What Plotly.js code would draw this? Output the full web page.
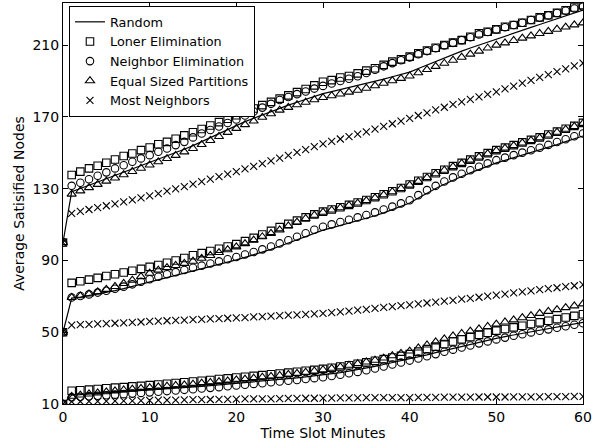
<!DOCTYPE html>
<html>
<head>
<meta charset="utf-8">
<script src="https://cdn.plot.ly/plotly-3.0.1.min.js"></script>
<style>html,body{margin:0;padding:0;background:#fff;}#chart{width:602px;height:448px;}</style>
</head>
<body>
<div id="chart"></div>
<script>
// Time axis (minutes)
const minutes = [0,1,2,3,4,5,6,7,8,9,10,11,12,13,14,15,16,17,18,19,20,21,22,23,24,25,26,27,28,29,30,
  31,32,33,34,35,36,37,38,39,40,41,42,43,44,45,46,47,48,49,50,51,52,53,54,55,56,57,58,59,60];

const seriesNames = ["Random","Loner Elimination","Neighbor Elimination","Equal Sized Partitions","Most Neighbors"];
const yTicks = [10,50,90,130,170,210];
const xTicks = [0,10,20,30,40,50,60];

// ---------- Group starting at 100 ----------
const random100 = [100,128.3,130.1,131.9,133.7,135.5,137.3,139.1,140.9,142.7,144.5,146.3,148.1,150.0,152.0,154.0,
  156.3,158.6,160.9,163.2,165.5,167.4,169.3,171.2,173.1,175.0,176.6,178.2,179.8,181.4,183.0,
  184.1,185.2,186.3,187.4,188.5,189.8,191.1,192.4,193.7,195.0,197.0,199.0,201.0,203.0,205.0,
  206.7,208.4,210.1,211.8,213.5,215.1,216.7,218.3,219.9,221.5,223.1,224.7,226.3,227.9,229.5];
const loner100 = [100,137.6,139.5,141.3,142.8,144.5,146.3,148.2,149.6,151.5,153.0,154.8,156.1,157.8,159.7,161.5,
  163.3,165.2,167.1,169.0,170.9,172.8,174.7,176.6,178.4,180.2,182.0,183.8,185.6,187.6,189.6,
  190.5,192.0,192.8,194.3,195.8,197.1,199.0,200.8,202.1,203.6,205.5,207.0,208.6,210.1,211.4,
  212.8,214.7,216.6,217.5,218.8,220.3,221.2,222.5,224.0,225.5,226.7,228.0,229.5,231.0,232.3];
const neighbor100 = [100,131.6,133.3,135.3,137.2,139.1,141.3,143.1,145.0,146.9,148.7,150.6,152.4,154.3,156.1,158.6,
  160.8,162.7,164.7,166.6,168.6,170.8,173.0,175.2,177.3,179.4,181.1,182.7,184.2,185.8,187.3,
  188.6,190.0,191.3,192.7,194.5,196.3,198.2,200.0,201.6,203.2,205.0,206.7,208.3,209.9,211.3,
  212.8,214.4,216.0,217.3,218.7,220.0,221.2,222.5,224.0,225.3,226.6,227.9,229.2,230.4,231.5];
const equal100 = [100,127.0,128.8,130.6,132.4,134.2,136.0,137.8,139.6,141.4,143.2,145.0,146.8,148.6,150.5,152.4,
  154.6,156.9,159.1,161.4,163.6,165.7,167.7,169.8,171.8,173.8,175.3,176.8,178.2,179.6,180.8,
  181.8,182.8,183.8,184.9,186.0,187.4,188.8,190.2,191.5,192.8,194.6,196.4,198.2,199.9,201.6,
  203.3,205.0,206.7,208.4,210.0,211.3,212.6,213.9,215.2,216.5,217.7,218.9,220.1,221.3,222.4];
const most100 = [100,116.2,117.3,118.4,119.4,120.5,121.6,122.7,123.8,124.9,126.0,127.3,128.6,129.9,131.2,132.5,
  133.9,135.3,136.7,138.1,139.5,141.0,142.5,144.0,145.5,147.0,148.6,150.2,151.8,153.4,155.0,
  156.4,157.7,159.0,160.4,161.7,163.2,164.7,166.2,167.7,169.2,170.8,172.3,173.9,175.4,177.0,
  178.4,179.8,181.2,182.6,184.0,185.6,187.2,188.8,190.4,192.0,193.6,195.2,196.8,198.4,200.0];

// ---------- Group starting at 50 ----------
const random50 = [50,69.0,69.6,70.4,71.3,72.2,73.2,74.3,75.5,76.8,78.1,79.4,80.7,81.9,83.1,84.3,
  85.5,86.7,87.9,89.1,90.3,91.7,93.1,94.6,96.2,97.9,99.7,101.6,103.5,105.3,106.9,
  108.2,109.5,110.8,112.1,113.4,114.9,116.5,118.2,120.0,122.0,124.8,127.6,130.1,132.5,134.8,
  136.8,138.8,140.7,142.6,144.4,145.8,147.2,148.6,150.0,151.4,153.0,154.6,156.2,157.8,159.4];
const loner50 = [50,77.5,78.4,79.3,80.3,81.3,82.3,83.3,84.3,85.3,86.4,87.5,88.7,90.0,91.4,92.9,
  94.1,95.3,96.5,97.8,99.1,100.8,102.6,104.5,106.5,108.6,110.4,112.2,114.0,115.7,117.2,
  118.4,119.7,121.0,122.3,123.7,125.2,126.9,128.6,130.4,132.3,134.4,136.5,138.6,140.6,142.6,
  144.4,146.2,148.0,149.8,151.5,152.9,154.3,155.8,157.2,158.6,160.2,161.8,163.4,165.0,166.7];
const neighbor50 = [50,69.4,70.2,71.1,72.1,73.1,74.2,75.4,76.7,78.1,79.5,80.9,82.3,83.5,84.7,85.9,
  87.1,88.3,89.5,90.7,91.9,93.3,94.7,96.2,97.8,99.5,101.3,103.2,105.2,107.1,108.8,
  110.1,111.4,112.7,114.0,115.3,116.8,118.4,120.0,121.8,123.6,126.4,129.2,131.6,134.0,136.3,
  138.3,140.3,142.2,144.1,145.9,147.3,148.7,150.1,151.4,152.8,154.4,156.0,157.6,159.2,160.8];
const equal50 = [50,69.4,70.3,71.3,72.5,73.9,75.5,77.2,79.0,81.0,82.9,84.6,86.0,87.2,88.4,89.6,
  91.2,92.8,94.4,96.0,97.6,99.4,101.3,103.2,105.1,107.0,109.2,111.4,113.4,115.2,116.9,
  118.1,119.4,120.7,122.0,123.4,124.9,126.6,128.3,130.1,132.0,134.1,136.2,138.3,140.3,142.3,
  144.1,145.9,147.7,149.5,151.2,152.6,154.0,155.5,156.9,158.3,159.9,161.5,163.1,164.7,166.4];
const most50 = [50,54.0,54.2,54.4,54.6,54.8,55.0,55.2,55.5,55.7,56.0,56.2,56.4,56.6,56.8,57.0,
  57.2,57.4,57.6,57.8,58.0,58.2,58.5,58.7,59.0,59.2,59.5,59.7,60.0,60.2,60.5,
  60.9,61.3,61.8,62.3,62.8,63.3,63.8,64.3,64.8,65.3,65.8,66.3,66.8,67.3,67.8,
  68.4,68.9,69.5,70.1,70.7,71.3,71.9,72.5,73.1,73.7,74.3,74.8,75.4,75.9,76.5];

// ---------- Group starting at 10 ----------
const random10 = [10,15.0,15.2,15.5,15.8,16.1,16.4,16.7,17.0,17.4,17.7,18.0,18.4,18.7,19.1,19.4,
  19.8,20.2,20.6,21.1,21.5,21.9,22.4,22.8,23.3,23.7,24.2,24.6,25.1,25.6,26.1,
  26.8,27.5,28.3,29.1,30.0,31.0,32.0,33.0,34.0,35.0,36.2,37.4,38.6,39.8,41.0,
  42.1,43.2,44.4,45.5,46.6,47.6,48.5,49.5,50.4,51.4,52.2,53.0,53.8,54.7,55.5];
const loner10 = [10,17.4,17.7,18.0,18.4,18.8,19.1,19.4,19.8,20.1,20.5,20.9,21.3,21.7,22.1,22.5,
  23.0,23.4,23.9,24.3,24.8,25.2,25.7,26.1,26.6,27.0,27.5,28.0,28.5,29.0,29.6,
  30.2,30.9,31.6,32.4,33.2,34.1,35.0,35.9,36.8,37.8,39.2,40.6,42.0,43.4,44.8,
  46.0,47.3,48.5,49.7,50.9,51.8,52.7,53.6,54.6,55.5,56.4,57.3,58.2,59.1,60.0];
const neighbor10 = [10,13.7,14.0,14.3,14.6,14.9,15.2,15.5,15.8,16.2,16.5,16.8,17.2,17.5,17.9,18.2,
  18.6,19.0,19.4,19.9,20.3,20.7,21.2,21.6,22.1,22.5,23.0,23.4,23.9,24.4,24.9,
  25.6,26.3,27.1,27.9,28.8,29.8,30.9,32.0,33.1,34.2,35.4,36.6,37.8,39.1,40.3,
  41.5,42.6,43.8,44.9,46.0,47.0,48.0,48.9,49.9,50.8,51.6,52.5,53.3,54.2,55.0];
const equal10 = [10,14.3,15.0,15.6,16.2,16.8,17.3,17.8,18.3,18.7,19.1,19.5,19.9,20.3,20.7,21.1,
  21.6,22.0,22.5,22.9,23.4,23.9,24.4,24.9,25.4,25.9,26.5,27.1,27.7,28.4,29.1,
  29.9,30.7,31.6,32.5,33.4,34.4,35.6,36.9,38.2,39.5,41.2,42.9,44.6,46.3,48.0,
  49.3,50.6,51.9,53.2,54.5,55.7,56.9,58.1,59.3,60.5,61.6,62.6,63.7,64.7,65.8];
const most10 = [10,11.3,11.4,11.5,11.5,11.6,11.7,11.8,11.8,11.9,12.0,12.1,12.1,12.2,12.3,12.4,
  12.4,12.5,12.6,12.6,12.7,12.8,12.8,12.9,12.9,13.0,13.1,13.1,13.2,13.2,13.3,
  13.3,13.4,13.4,13.4,13.5,13.5,13.5,13.6,13.6,13.6,13.7,13.7,13.7,13.8,13.8,
  13.8,13.8,13.9,13.9,13.9,13.9,14.0,14.0,14.0,14.0,14.1,14.1,14.1,14.2,14.2];

const groups = [
  [random100, loner100, neighbor100, equal100, most100],
  [random50, loner50, neighbor50, equal50, most50],
  [random10, loner10, neighbor10, equal10, most10]
];

const styles = [
  {mode: 'lines', line: {color: '#000', width: 1.2}},
  {mode: 'markers', marker: {symbol: 'square-open', size: 7.5, color: '#000', line: {color: '#000', width: 1.1}}},
  {mode: 'markers', marker: {symbol: 'circle-open', size: 7.5, color: '#000', line: {color: '#000', width: 1.1}}},
  {mode: 'markers', marker: {symbol: 'triangle-up-open', size: 8, color: '#000', line: {color: '#000', width: 1.1}}},
  {mode: 'markers', marker: {symbol: 'x-thin-open', size: 7, color: '#000', line: {color: '#000', width: 1.1}}}
];

const traces = [];
groups.forEach((g, gi) => {
  g.forEach((vals, si) => {
    traces.push(Object.assign({
      type: 'scatter',
      x: minutes,
      y: vals,
      name: seriesNames[si],
      legendgroup: seriesNames[si],
      showlegend: gi === 0,
      cliponaxis: true,
      hoverinfo: 'skip'
    }, JSON.parse(JSON.stringify(styles[si]))));
  });
});

const axisCommon = {
  ticks: 'inside', ticklen: 5, tickwidth: 1, tickcolor: '#000',
  showline: true, linecolor: '#000', linewidth: 1, mirror: 'allticks',
  showgrid: false, zeroline: false,
  tickfont: {family: 'DejaVu Sans', size: 14, color: '#000'}
};

const layout = {
  width: 602, height: 448,
  margin: {l: 63, r: 19, t: 3, b: 44},
  paper_bgcolor: '#fff', plot_bgcolor: '#fff',
  font: {family: 'DejaVu Sans', size: 14, color: '#000'},
  showlegend: true,
  legend: {
    x: 0.0115, y: 0.9925, xanchor: 'left', yanchor: 'top',
    bordercolor: '#000', borderwidth: 1, bgcolor: '#fff',
    font: {family: 'DejaVu Sans', size: 12.8, color: '#000'},
    tracegroupgap: 0, traceorder: 'normal'
  },
  xaxis: Object.assign({}, axisCommon, {
    range: [0, 60], tickmode: 'array', tickvals: xTicks, ticktext: xTicks.map(String),
    title: {text: 'Time Slot Minutes', font: {family: 'DejaVu Sans', size: 14, color: '#000'}, standoff: 4}
  }),
  yaxis: Object.assign({}, axisCommon, {
    range: [10, 233.5], tickmode: 'array', tickvals: yTicks, ticktext: yTicks.map(String),
    title: {text: 'Average Satisified Nodes', font: {family: 'DejaVu Sans', size: 14, color: '#000'}, standoff: 4}
  })
};

Plotly.newPlot('chart', traces, layout, {staticPlot: true, displayModeBar: false});
</script>
</body>
</html>
